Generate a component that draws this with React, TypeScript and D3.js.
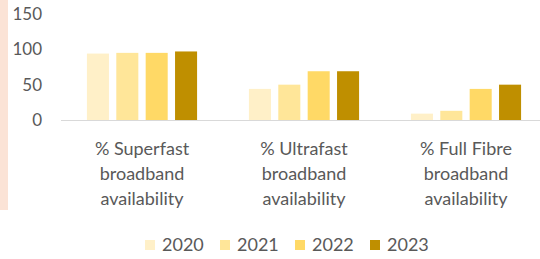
import React from "react";
import * as d3 from "d3";

const categories = [
  ["% Superfast", "broadband", "availability"],
  ["% Ultrafast", "broadband", "availability"],
  ["% Full Fibre", "broadband", "availability"],
];
const categoryKeys = ["Superfast", "Ultrafast", "Full Fibre"];
const years = ["2020", "2021", "2022", "2023"];
const values2020 = [94, 44, 9];
const values2021 = [95, 50, 13];
const values2022 = [95, 69, 44];
const values2023 = [97, 69, 50];
const seriesValues = [values2020, values2021, values2022, values2023];
const colors = ["#FFF0C8", "#FFE699", "#FFD966", "#BF8F00"];
const yTicks = [0, 50, 100, 150];

export default function App() {
  const W = 540, H = 259;
  const x0 = d3.scaleBand<string>().domain(categoryKeys).range([61, 547]).paddingInner(0.32).paddingOuter(0.16);
  const x1 = d3.scaleBand<string>().domain(years).range([0, x0.bandwidth()]).paddingInner(0.25).paddingOuter(0);
  const y = d3.scaleLinear().domain([0, 150]).range([120, 14]);
  const font = "Lato, 'Open Sans', sans-serif";
  const legendX = [145, 220, 295, 370];

  return (
    <svg width={W} height={H} style={{ position: "absolute", left: 0, top: 0 }} fontFamily={font}>
      <rect x={0} y={0} width={W} height={H} fill="#fff" />
      <rect x={0} y={0} width={8} height={210} fill="#FBE3D6" />
      {yTicks.map((t) => (
        <text key={t} x={42} y={y(t)} dy="0.36em" textAnchor="end" fontSize={17} fill="#595959">{t}</text>
      ))}
      {categoryKeys.map((c, ci) =>
        years.map((yr, si) => {
          const v = seriesValues[si][ci];
          return (
            <rect key={c + yr} x={(x0(c) as number) + (x1(yr) as number)} y={y(v)} width={x1.bandwidth()} height={y(0) - y(v)} fill={colors[si]} />
          );
        })
      )}
      <line x1={61} x2={W} y1={y(0) + 0.5} y2={y(0) + 0.5} stroke="#D9D9D9" strokeWidth={1} />
      {categoryKeys.map((c, ci) => (
        <text key={c} x={(x0(c) as number) + x0.bandwidth() / 2} textAnchor="middle" fontSize={18} fill="#595959">
          {categories[ci].map((l, li) => (
            <tspan key={li} x={(x0(c) as number) + x0.bandwidth() / 2} y={155 + li * 25}>{l}</tspan>
          ))}
        </text>
      ))}
      {years.map((yr, i) => (
        <g key={yr}>
          <rect x={legendX[i]} y={240} width={10} height={10} fill={colors[i]} />
          <text x={legendX[i] + 17} y={251} fontSize={18} fill="#595959">{yr}</text>
        </g>
      ))}
    </svg>
  );
}
